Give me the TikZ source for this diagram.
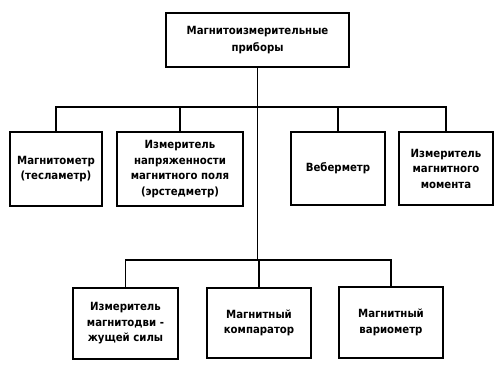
\documentclass[tikz,border=0pt]{standalone}
\usepackage{fontspec}
\setmainfont{DejaVu Sans Condensed}
\begin{document}
\begin{tikzpicture}[x=1pt,y=-1pt,
		box/.style={draw,line width=2pt,align=center,inner sep=2pt,
			font=\fontsize{11.3}{15.5}\selectfont\bfseries},
		link/.style={line width=1.4pt}]
		\useasboundingbox (0,0) rectangle (501,371);

		\node[box,minimum width=183pt,minimum height=54pt] (top) at (257.5,40) {Магнитоизмерительные\\[1.5pt]приборы};

		\node[box,minimum width=92pt,minimum height=74pt] (tesla) at (56,169) {Магнитометр\\(тесламетр)};
		\node[box,minimum width=126pt,minimum height=74pt] (oersted) at (180,169) {Измеритель\\напряженности\\магнитного поля\\(эрстедметр)};
		\node[box,minimum width=94pt,minimum height=73pt] (weber) at (338,168.5) {Веберметр};
		\node[box,minimum width=94pt,minimum height=73pt] (moment) at (446,168.5) {Измеритель\\магнитного\\момента};

		\node[box,minimum width=105pt,minimum height=71pt] (mmf) at (125.5,323.5) {Измеритель\\магнитодви -\\жущей силы};
		\node[box,minimum width=104pt,minimum height=70pt] (comp) at (259,323) {Магнитный\\компаратор};
		\node[box,minimum width=104pt,minimum height=71pt] (vario) at (391,322.5) {Магнитный\\вариометр};

		\coordinate (busA) at (0,107);
		\coordinate (busB) at (0,260);

		% upper row
		\draw[link] (tesla.north) |- (busA -| moment.north) -- (moment.north);
		\draw[link] (oersted.north) -- (oersted.north |- busA);
		\draw[link] (weber.north) -- (weber.north |- busA);

		% trunk and lower row
		\draw[link] (top.south) -- (top.south |- busB);
		\draw[link] (mmf.north) |- (busB -| vario.north) -- (vario.north);
		\draw[link] (comp.north) -- (comp.north |- busB);
	\end{tikzpicture}
\end{document}
